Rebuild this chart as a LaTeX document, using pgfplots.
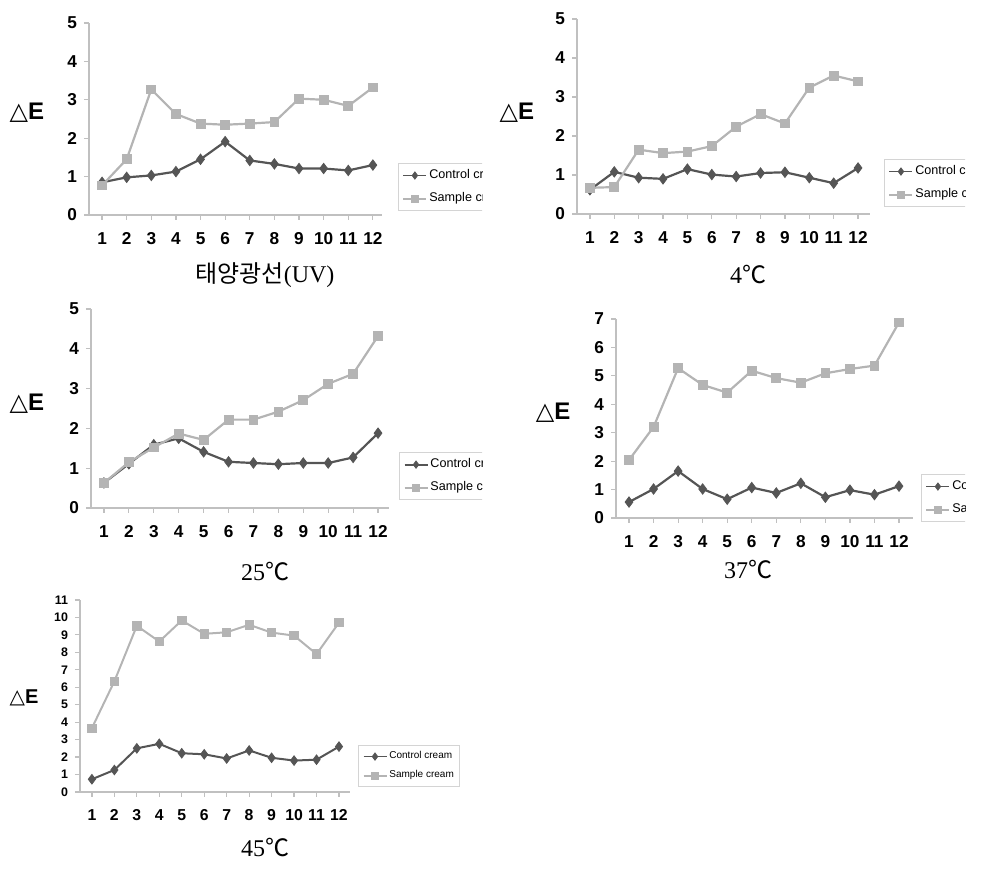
\documentclass[border=0pt]{standalone}
\usepackage{pgfplots}
\usepackage{pgfplotstable}
\pgfplotsset{compat=1.18}
\usepackage{fontspec}
\setmainfont{Liberation Sans}
\newfontfamily\serif{Liberation Serif}
\newfontfamily\kr{Noto Sans CJK KR}
\newfontfamily\djv{DejaVu Sans}
\definecolor{ctrl}{HTML}{555555}
\definecolor{smpl}{HTML}{B4B4B4}
\definecolor{axgray}{HTML}{C0C0C0}
\definecolor{leggray}{HTML}{D4D4D4}

\pgfplotstableread{
x c s
1 0.85 0.77
2 0.98 1.45
3 1.03 3.27
4 1.13 2.63
5 1.45 2.38
6 1.91 2.35
7 1.42 2.38
8 1.33 2.42
9 1.21 3.03
10 1.21 3.00
11 1.16 2.84
12 1.30 3.32
}\uvdata
\pgfplotstableread{
x c s
1 0.62 0.67
2 1.08 0.69
3 0.93 1.65
4 0.90 1.56
5 1.15 1.60
6 1.01 1.74
7 0.96 2.24
8 1.05 2.56
9 1.07 2.32
10 0.93 3.24
11 0.79 3.55
12 1.18 3.40
}\fourdata
\pgfplotstableread{
x c s
1 0.63 0.63
2 1.11 1.15
3 1.59 1.52
4 1.75 1.87
5 1.41 1.71
6 1.16 2.22
7 1.13 2.22
8 1.10 2.42
9 1.13 2.71
10 1.13 3.12
11 1.27 3.37
12 1.88 4.32
}\tfdata
\pgfplotstableread{
x c s
1 0.56 2.04
2 1.02 3.20
3 1.65 5.27
4 1.02 4.68
5 0.66 4.41
6 1.07 5.18
7 0.88 4.92
8 1.22 4.76
9 0.73 5.09
10 0.98 5.24
11 0.82 5.36
12 1.12 6.88
}\tsdata
\pgfplotstableread{
x c s
1 0.73 3.66
2 1.26 6.34
3 2.50 9.52
4 2.76 8.62
5 2.22 9.83
6 2.16 9.06
7 1.92 9.15
8 2.38 9.58
9 1.96 9.13
10 1.80 8.96
11 1.85 7.90
12 2.60 9.70
}\ffdata

\pgfplotsset{
  panel/.style={
    scale only axis,
    axis x line*=bottom, axis y line*=left,
    axis line style={axgray, line width=0.6pt},
    tick style={axgray, line width=0.6pt},
    tick align=outside, major tick length=2.5pt,
    xtick={1,...,12}, ytick distance=1, ymin=0,
    clip=false,
    /pgf/number format/assume math mode=true,
    ticklabel style={font=\bfseries\fontsize{8.6}{9}\selectfont},
    xticklabel style={yshift=-2.5pt, text height=6.2pt, text depth=0pt},
    legend cell align=left,
    legend style={draw=leggray, line width=0.5pt, anchor=north west,
      font=\fontsize{6.3}{7}\selectfont, inner sep=2pt,
      row sep=3.5pt, nodes={inner sep=1pt}},
    legend image code/.code={\draw[mark repeat=2,mark phase=2,##1,line width=0.9pt,mark size=1.8pt] plot coordinates {(0pt,0pt) (5.75pt,0pt) (11.5pt,0pt)};},
  },
  ctrlplot/.style={ctrl, line width=1.1pt, mark=diamond*, mark size=2.6pt, mark options={fill=ctrl, draw=ctrl, line width=0.4pt}},
  smplplot/.style={smpl, line width=1.1pt, mark=square*, mark size=2.2pt, mark options={fill=smpl, draw=smpl, line width=0.4pt}},
}
\newcommand{\dE}[1]{{\fontsize{#1}{#1}\selectfont{\djv △}{\bfseries E}}}
\newcommand{\capt}[1]{\fontsize{12}{14}\selectfont #1}

\begin{document}
\begin{tikzpicture}
% Panel 1: UV
\begin{scope}
\clip (0pt,290pt) rectangle (241pt,435pt);
\begin{axis}[panel, at={(44.5pt,327.5pt)}, anchor=south west,
  width=146.5pt, height=96pt, xmin=0.47, xmax=12.37, ymax=5,
  legend style={at={(axis description cs:1.0546,0.271)}}]
\addplot[ctrlplot] table[x=x,y=c] {\uvdata};
\addplot[smplplot] table[x=x,y=s] {\uvdata};
\legend{Control cream, Sample cream}
\node at (axis description cs:-0.212,0.531) {\dE{12}};
\end{axis}
\end{scope}
% Panel 2: 4C
\begin{scope}
\clip (245pt,290pt) rectangle (482.5pt,435pt);
\begin{axis}[panel, at={(288.5pt,328pt)}, anchor=south west,
  width=146.5pt, height=97.5pt, xmin=0.47, xmax=12.49, ymax=5,
  legend style={at={(axis description cs:1.048,0.282)}}]
\addplot[ctrlplot] table[x=x,y=c] {\fourdata};
\addplot[smplplot] table[x=x,y=s] {\fourdata};
\legend{Control cream, Sample cream}
\node at (axis description cs:-0.205,0.518) {\dE{12}};
\end{axis}
\end{scope}
% Panel 3: 25C
\begin{scope}
\clip (0pt,142.5pt) rectangle (241pt,290pt);
\begin{axis}[panel, at={(45.5pt,181pt)}, anchor=south west,
  width=149pt, height=99.5pt, xmin=0.48, xmax=12.44, ymax=5,
  legend style={at={(axis description cs:1.034,0.281)}}]
\addplot[ctrlplot] table[x=x,y=c] {\tfdata};
\addplot[smplplot] table[x=x,y=s] {\tfdata};
\legend{Control cream, Sample cream}
\node at (axis description cs:-0.215,0.523) {\dE{12}};
\end{axis}
\end{scope}
% Panel 4: 37C
\begin{scope}
\clip (260pt,142.5pt) rectangle (482.5pt,290pt);
\begin{axis}[panel, at={(308pt,176pt)}, anchor=south west,
  width=148.5pt, height=99.5pt, xmin=0.47, xmax=12.57, ymax=7,
  legend style={at={(axis description cs:1.027,0.221)}}]
\addplot[ctrlplot] table[x=x,y=c] {\tsdata};
\addplot[smplplot] table[x=x,y=s] {\tsdata};
\legend{Control cream, Sample cream}
\node at (axis description cs:-0.212,0.528) {\dE{12}};
\end{axis}
\end{scope}
% Panel 5: 45C
\begin{axis}[panel, at={(40pt,39pt)}, anchor=south west,
  width=135pt, height=96pt, xmin=0.47, xmax=12.49, ymax=11,
  xticklabel style={font=\bfseries\fontsize{7.9}{8}\selectfont, text height=5.7pt},
  yticklabel style={font=\bfseries\fontsize{6.2}{7}\selectfont},
  legend style={at={(axis description cs:1.030,0.245)}, font=\fontsize{5}{6}\selectfont, row sep=2.5pt},
  ctrlplot/.append style={line width=1pt, mark size=2.4pt},
  smplplot/.append style={line width=1pt, mark size=2.1pt}]
\addplot[ctrlplot] table[x=x,y=c] {\ffdata};
\addplot[smplplot] table[x=x,y=s] {\ffdata};
\legend{Control cream, Sample cream}
\node at (axis description cs:-0.207,0.49) {\dE{10}};
\end{axis}
% captions
\node at (132.5pt,297.5pt) {\capt{{\kr 태양광선}{\serif (UV)}}};
\node at (374pt,297.5pt) {\capt{{\serif 4}{\kr ℃}}};
\node at (132.5pt,149pt) {\capt{{\serif 25}{\kr ℃}}};
\node at (374pt,150pt) {\capt{{\serif 37}{\kr ℃}}};
\node at (132.5pt,11pt) {\capt{{\serif 45}{\kr ℃}}};
\pgfresetboundingbox
\path[use as bounding box] (0pt,0pt) rectangle (501pt,435pt);
\end{tikzpicture}
\end{document}
